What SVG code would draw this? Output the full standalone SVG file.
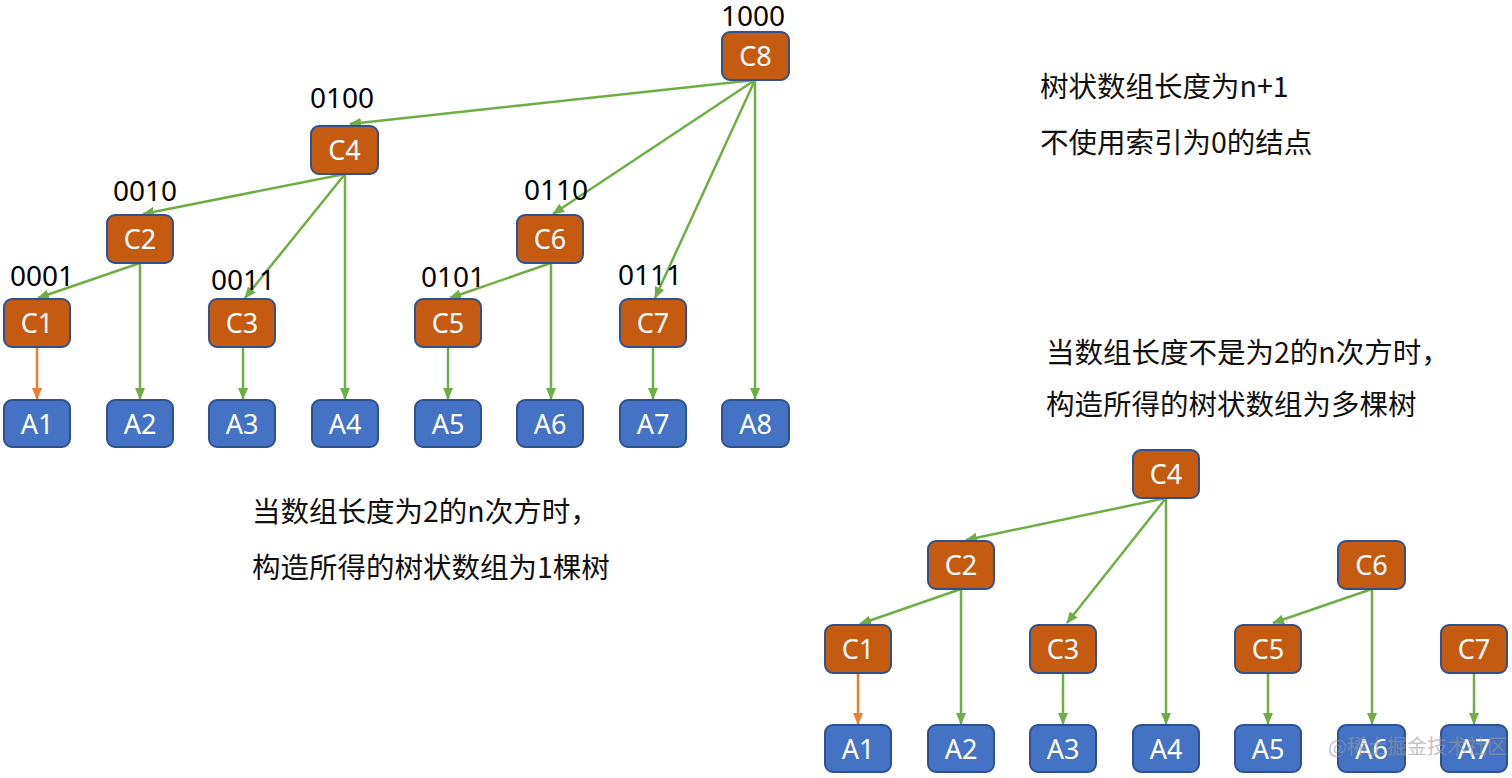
<svg xmlns="http://www.w3.org/2000/svg" width="1512" height="778" viewBox="0 0 1512 778">
<defs>
<marker id="ag" markerUnits="userSpaceOnUse" markerWidth="12" markerHeight="10" refX="11" refY="5" orient="auto"><path d="M0,0 L12,5 L0,10 Z" fill="#70AD47"/></marker>
<marker id="ao" markerUnits="userSpaceOnUse" markerWidth="12" markerHeight="10" refX="11" refY="5" orient="auto"><path d="M0,0 L12,5 L0,10 Z" fill="#ED7D31"/></marker>
</defs>
<style>
.c{fill:#C55A11;stroke:#2F528F;stroke-width:2}
.a{fill:#4472C4;stroke:#2F528F;stroke-width:2}
.t{fill:#fff;font-family:"Noto Sans","Noto Sans CJK SC",sans-serif;font-size:27px;text-anchor:middle}
.b{fill:#000;font-family:"Noto Sans","Noto Sans CJK SC",sans-serif;font-size:28px;text-anchor:middle}
.n{fill:#111;font-family:"Noto Sans CJK SC","Noto Sans",sans-serif;font-size:28.5px}
.g{stroke:#70AD47;stroke-width:2.5;fill:none;marker-end:url(#ag)}
.o{stroke:#ED7D31;stroke-width:2.5;fill:none;marker-end:url(#ao)}
</style>
<rect width="1512" height="778" fill="#fff"/>
<g id="connectors">
<line class="g" x1="755" y1="80" x2="350" y2="124"/>
<line class="g" x1="755" y1="80" x2="553" y2="214"/>
<line class="g" x1="755" y1="80" x2="655" y2="298"/>
<line class="g" x1="755" y1="80" x2="755" y2="399"/>
<line class="g" x1="345" y1="174" x2="143" y2="214"/>
<line class="g" x1="345" y1="174" x2="245" y2="298"/>
<line class="g" x1="345" y1="174" x2="345" y2="399"/>
<line class="g" x1="140" y1="263" x2="38" y2="298"/>
<line class="g" x1="140" y1="263" x2="140" y2="399"/>
<line class="g" x1="551" y1="263" x2="450" y2="298"/>
<line class="g" x1="551" y1="263" x2="551" y2="399"/>
<line class="o" x1="37" y1="347" x2="37" y2="399"/>
<line class="g" x1="243" y1="347" x2="243" y2="399"/>
<line class="g" x1="448" y1="347" x2="448" y2="399"/>
<line class="g" x1="653" y1="347" x2="653" y2="399"/>
<line class="g" x1="1166" y1="498" x2="966" y2="540"/>
<line class="g" x1="1166" y1="498" x2="1067" y2="623"/>
<line class="g" x1="1166" y1="498" x2="1166" y2="724"/>
<line class="g" x1="961" y1="589" x2="860" y2="624"/>
<line class="g" x1="961" y1="589" x2="961" y2="724"/>
<line class="g" x1="1372" y1="589" x2="1273" y2="623"/>
<line class="g" x1="1372" y1="589" x2="1372" y2="724"/>
<line class="o" x1="858" y1="673" x2="858" y2="724"/>
<line class="g" x1="1063" y1="673" x2="1063" y2="724"/>
<line class="g" x1="1268" y1="673" x2="1268" y2="724"/>
<line class="g" x1="1474" y1="673" x2="1474" y2="724"/>
</g>
<g id="top-C8"><rect class="c" x="722" y="32" width="67" height="48" rx="8"/><text class="t" x="755.5" y="66">C8</text><text class="b" x="753" y="26" font-size="27">1000</text></g>
<g id="top-C4"><rect class="c" x="311" y="126" width="67" height="48" rx="8"/><text class="t" x="344.5" y="160">C4</text><text class="b" x="342" y="108">0100</text></g>
<g id="top-C2"><rect class="c" x="107" y="215" width="66" height="48" rx="8"/><text class="t" x="140" y="249">C2</text><text class="b" x="145" y="201">0010</text></g>
<g id="top-C6"><rect class="c" x="517" y="215" width="66" height="48" rx="8"/><text class="t" x="550" y="249">C6</text><text class="b" x="556" y="200">0110</text></g>
<g id="top-C1"><rect class="c" x="4" y="299" width="66" height="48" rx="8"/><text class="t" x="37" y="333">C1</text><text class="b" x="42" y="286">0001</text></g>
<g id="top-C3"><rect class="c" x="209" y="299" width="66" height="48" rx="8"/><text class="t" x="242" y="333">C3</text><text class="b" x="243" y="290">0011</text></g>
<g id="top-C5"><rect class="c" x="415" y="299" width="66" height="48" rx="8"/><text class="t" x="448" y="333">C5</text><text class="b" x="453" y="287">0101</text></g>
<g id="top-C7"><rect class="c" x="620" y="299" width="66" height="48" rx="8"/><text class="t" x="653" y="333">C7</text><text class="b" x="650" y="285">0111</text></g>
<g id="top-A1"><rect class="a" x="4" y="400" width="66" height="47" rx="8"/><text class="t" x="37" y="433.5">A1</text></g>
<g id="top-A2"><rect class="a" x="107" y="400" width="66" height="47" rx="8"/><text class="t" x="140" y="433.5">A2</text></g>
<g id="top-A3"><rect class="a" x="209" y="400" width="66" height="47" rx="8"/><text class="t" x="242" y="433.5">A3</text></g>
<g id="top-A4"><rect class="a" x="312" y="400" width="66" height="47" rx="8"/><text class="t" x="345" y="433.5">A4</text></g>
<g id="top-A5"><rect class="a" x="415" y="400" width="66" height="47" rx="8"/><text class="t" x="448" y="433.5">A5</text></g>
<g id="top-A6"><rect class="a" x="517" y="400" width="66" height="47" rx="8"/><text class="t" x="550" y="433.5">A6</text></g>
<g id="top-A7"><rect class="a" x="620" y="400" width="66" height="47" rx="8"/><text class="t" x="653" y="433.5">A7</text></g>
<g id="top-A8"><rect class="a" x="722" y="400" width="67" height="47" rx="8"/><text class="t" x="755.5" y="433.5">A8</text></g>
<g id="bot-C4"><rect class="c" x="1133" y="450" width="66" height="48" rx="8"/><text class="t" x="1166" y="484">C4</text></g>
<g id="bot-C2"><rect class="c" x="928" y="541" width="66" height="48" rx="8"/><text class="t" x="961" y="575">C2</text></g>
<g id="bot-C6"><rect class="c" x="1338" y="541" width="67" height="48" rx="8"/><text class="t" x="1371.5" y="575">C6</text></g>
<g id="bot-C1"><rect class="c" x="825" y="625" width="66" height="48" rx="8"/><text class="t" x="858" y="659">C1</text></g>
<g id="bot-C3"><rect class="c" x="1030" y="625" width="66" height="48" rx="8"/><text class="t" x="1063" y="659">C3</text></g>
<g id="bot-C5"><rect class="c" x="1235" y="625" width="66" height="48" rx="8"/><text class="t" x="1268" y="659">C5</text></g>
<g id="bot-C7"><rect class="c" x="1441" y="625" width="66" height="48" rx="8"/><text class="t" x="1474" y="659">C7</text></g>
<g id="bot-A1"><rect class="a" x="825" y="725" width="66" height="47" rx="8"/><text class="t" x="858" y="758.5">A1</text></g>
<g id="bot-A2"><rect class="a" x="928" y="725" width="66" height="47" rx="8"/><text class="t" x="961" y="758.5">A2</text></g>
<g id="bot-A3"><rect class="a" x="1030" y="725" width="66" height="47" rx="8"/><text class="t" x="1063" y="758.5">A3</text></g>
<g id="bot-A4"><rect class="a" x="1133" y="725" width="66" height="47" rx="8"/><text class="t" x="1166" y="758.5">A4</text></g>
<g id="bot-A5"><rect class="a" x="1235" y="725" width="66" height="47" rx="8"/><text class="t" x="1268" y="758.5">A5</text></g>
<g id="bot-A6"><rect class="a" x="1338" y="725" width="67" height="47" rx="8"/><text class="t" x="1371.5" y="758.5">A6</text></g>
<g id="bot-A7"><rect class="a" x="1441" y="725" width="66" height="47" rx="8"/><text class="t" x="1474" y="758.5">A7</text></g>
<g id="notes">
<text class="n" x="1040" y="97">树状数组长度为n+1</text>
<text class="n" x="1040" y="153">不使用索引为0的结点</text>
<text class="n" x="1046" y="363">当数组长度不是为2的n次方时，</text>
<text class="n" x="1046" y="415">构造所得的树状数组为多棵树</text>
<text class="n" x="252" y="522">当数组长度为2的n次方时，</text>
<text class="n" x="252" y="578">构造所得的树状数组为1棵树</text>
<text x="1328" y="754" fill="#999" fill-opacity="0.6" font-family="Noto Sans CJK SC,sans-serif" font-size="20">@稀土掘金技术社区</text>
</g>
</svg>
